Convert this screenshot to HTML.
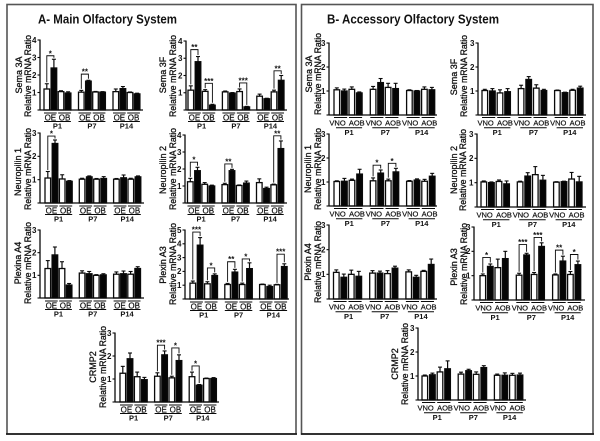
<!DOCTYPE html>
<html lang="en">
<head>
<meta charset="utf-8">
<title>Olfactory system mRNA ratios</title>
<style>
html,body{margin:0;padding:0;background:#fff;width:600px;height:441px;overflow:hidden}
svg{display:block;filter:blur(0.3px)}
text{font-family:"Liberation Sans",Arial,sans-serif;fill:#111}
</style>
</head>
<body>
<svg id="figure" width="600" height="441" viewBox="0 0 600 441" xmlns="http://www.w3.org/2000/svg">
  <rect x="0" y="0" width="600" height="441" fill="#fff"/>
  <rect x="7" y="4.5" width="289" height="429.5" fill="none" stroke="#555" stroke-width="1.6"/>
  <line x1="6" y1="434" x2="297" y2="434" stroke="#111" stroke-width="1.4"/>
  <rect x="301.5" y="4.5" width="291.5" height="429.5" fill="none" stroke="#555" stroke-width="1.6"/>
  <line x1="301" y1="434" x2="594" y2="434" stroke="#111" stroke-width="1.4"/>
  <text x="38" y="23.5" font-size="12.5" font-weight="bold" textLength="139" lengthAdjust="spacingAndGlyphs">A- Main Olfactory System</text>
  <text x="327" y="23.5" font-size="12.5" font-weight="bold" textLength="172" lengthAdjust="spacingAndGlyphs">B- Accessory Olfactory System</text>
</svg>
<script>
// Shared categories
const ageGroups = ['P1', 'P7', 'P14'];
const mainTissues = ['OE', 'OB'];
const accessoryTissues = ['VNO', 'AOB'];

// Panel A: means and errors, ordered P1 (white, black, white, black), P7, P14
const mainSema3aMeans = [1.2, 2.4, 1.05, 0.97, 1.02, 1.65, 1.03, 1.02, 1.05, 1.22, 1.0, 0.92];
const mainSema3aErrors = [0.3, 0.5, 0.05, 0.07, 0.1, 0.05, 0.03, 0.03, 0.15, 0.12, 0.03, 0.04];
const mainSema3aBrackets = [[0, 1, 3.1, '*'], [4, 5, 2.05, '**']];

const mainSema3fMeans = [1.15, 2.8, 1.08, 0.28, 1.05, 0.98, 1.07, 0.18, 0.8, 0.65, 1.05, 1.72];
const mainSema3fErrors = [0.25, 0.3, 0.1, 0.05, 0.05, 0.03, 0.15, 0.03, 0.12, 0.03, 0.1, 0.28];
const mainSema3fBrackets = [[0, 1, 3.5, '**'], [2, 3, 1.55, '***'], [6, 7, 1.57, '***'], [10, 11, 2.27, '**']];

const mainNeuropilin1Means = [1.07, 2.55, 1.03, 0.93, 1.02, 1.12, 1.02, 1.05, 1.02, 1.08, 1.02, 1.12];
const mainNeuropilin1Errors = [0.28, 0.15, 0.18, 0.03, 0.04, 0.04, 0.03, 0.08, 0.03, 0.12, 0.04, 0.04];
const mainNeuropilin1Brackets = [[0, 1, 2.87, '*']];

const mainNeuropilin2Means = [1.25, 1.9, 1.1, 1.0, 1.08, 1.9, 1.03, 1.17, 1.2, 0.85, 1.07, 3.2];
const mainNeuropilin2Errors = [0.2, 0.2, 0.1, 0.05, 0.08, 0.08, 0.03, 0.12, 0.22, 0.08, 0.04, 0.45];
const mainNeuropilin2Brackets = [[0, 1, 2.4, '*'], [4, 5, 2.3, '**'], [10, 11, 3.95, '**']];

const mainPlexinA4Means = [1.3, 1.9, 1.3, 0.57, 1.1, 1.07, 1.0, 1.02, 1.05, 1.07, 1.05, 1.3];
const mainPlexinA4Errors = [0.35, 0.35, 0.3, 0.07, 0.1, 0.1, 0.03, 0.05, 0.1, 0.12, 0.12, 0.08];
const mainPlexinA4Brackets = [];

const mainPlexinA3Means = [1.15, 3.9, 1.1, 1.7, 1.05, 1.95, 1.05, 2.2, 1.05, 0.9, 1.03, 2.35];
const mainPlexinA3Errors = [0.15, 0.55, 0.15, 0.12, 0.08, 0.2, 0.1, 0.42, 0.03, 0.1, 0.03, 0.2];
const mainPlexinA3Brackets = [[0, 1, 4.85, '***'], [2, 3, 2.25, '*'], [4, 5, 2.7, '**'], [6, 7, 2.9, '*'], [10, 11, 3.25, '***']];

const mainCrmp2Means = [1.25, 1.88, 1.1, 0.97, 1.12, 2.05, 1.05, 1.8, 1.1, 0.73, 1.02, 1.02];
const mainCrmp2Errors = [0.3, 0.25, 0.2, 0.1, 0.15, 0.17, 0.07, 0.25, 0.2, 0.03, 0.02, 0.04];
const mainCrmp2Brackets = [[4, 5, 2.47, '***'], [6, 7, 2.35, '*'], [8, 9, 1.57, '*']];

// Panel B
const accSema3aMeans = [1.05, 1.0, 1.07, 0.92, 1.07, 1.35, 1.15, 1.1, 1.02, 1.0, 1.07, 1.05];
const accSema3aErrors = [0.08, 0.08, 0.1, 0.04, 0.12, 0.17, 0.17, 0.22, 0.03, 0.02, 0.1, 0.1];
const accSema3aBrackets = [];

const accSema3fMeans = [1.02, 1.0, 0.92, 0.97, 1.1, 1.48, 1.12, 1.02, 1.02, 0.93, 1.03, 1.12];
const accSema3fErrors = [0.05, 0.1, 0.13, 0.13, 0.14, 0.12, 0.14, 0.05, 0.02, 0.02, 0.04, 0.08];
const accSema3fBrackets = [];

const accNeuropilin1Means = [1.02, 1.03, 1.07, 1.33, 1.05, 1.37, 1.05, 1.42, 1.03, 1.08, 1.03, 1.24];
const accNeuropilin1Errors = [0.03, 0.12, 0.05, 0.2, 0.12, 0.13, 0.07, 0.15, 0.03, 0.05, 0.08, 0.12];
const accNeuropilin1Brackets = [[4, 5, 1.7, '*'], [6, 7, 1.78, '*']];

const accNeuropilin2Means = [1.03, 1.0, 1.05, 0.95, 1.03, 1.27, 1.33, 1.1, 1.02, 1.04, 1.15, 1.03];
const accNeuropilin2Errors = [0.04, 0.03, 0.06, 0.12, 0.03, 0.14, 0.33, 0.2, 0.02, 0.02, 0.27, 0.23];
const accNeuropilin2Brackets = [];

const accPlexinA4Means = [1.08, 0.88, 1.0, 0.92, 1.05, 1.05, 1.03, 1.25, 1.1, 0.88, 1.12, 1.4];
const accPlexinA4Errors = [0.1, 0.13, 0.17, 0.2, 0.1, 0.08, 0.12, 0.08, 0.08, 0.08, 0.04, 0.22];
const accPlexinA4Brackets = [];

const accPlexinA3Means = [1.0, 1.38, 1.33, 1.7, 1.02, 1.85, 1.05, 2.2, 1.03, 1.6, 1.05, 1.45];
const accPlexinA3Errors = [0.07, 0.1, 0.35, 0.3, 0.08, 0.07, 0.08, 0.15, 0.04, 0.2, 0.12, 0.15];
const accPlexinA3Brackets = [[0, 1, 1.75, '*'], [4, 5, 2.28, '***'], [6, 7, 2.57, '***'], [8, 9, 2.05, '**'], [10, 11, 1.87, '*']];

const accCrmp2Means = [1.0, 1.05, 1.17, 1.3, 1.08, 1.22, 1.07, 1.35, 1.03, 1.03, 1.03, 1.04];
const accCrmp2Errors = [0.04, 0.07, 0.2, 0.33, 0.08, 0.06, 0.1, 0.08, 0.05, 0.1, 0.08, 0.08];
const accCrmp2Brackets = [];

// Layout of each panel (geometry only) and its data references
const panels = [
  {id:'main-sema-3a', gene:'Sema 3A', means:mainSema3aMeans, errors:mainSema3aErrors, brackets:mainSema3aBrackets, tissues:mainTissues, yMax:4, axisX:40, axisEnd:143, top:40, base:110, first:44, step:7.1, pitch:34.5, geneX:19, relX:28, geneC:75, relC:76, wide:false},
  {id:'main-sema-3f', gene:'Sema 3F', means:mainSema3fMeans, errors:mainSema3fErrors, brackets:mainSema3fBrackets, tissues:mainTissues, yMax:4, axisX:186, axisEnd:287, top:41, base:110, first:188, step:7.2, pitch:34.4, geneX:163, relX:173, geneC:75, relC:76, wide:false},
  {id:'main-neuropilin-1', gene:'Neuropilin 1', means:mainNeuropilin1Means, errors:mainNeuropilin1Errors, brackets:mainNeuropilin1Brackets, tissues:mainTissues, yMax:3, axisX:40, axisEnd:144, top:133, base:203, first:45, step:7.2, pitch:34.3, geneX:18, relX:28, geneC:172, relC:169, wide:false},
  {id:'main-neuropilin-2', gene:'Neuropilin 2', means:mainNeuropilin2Means, errors:mainNeuropilin2Errors, brackets:mainNeuropilin2Brackets, tissues:mainTissues, yMax:4, axisX:185, axisEnd:287, top:135, base:203, first:187.5, step:7.2, pitch:34.5, geneX:163, relX:173, geneC:170, relC:169, wide:false},
  {id:'main-plexin-a4', gene:'Plexina A4', means:mainPlexinA4Means, errors:mainPlexinA4Errors, brackets:mainPlexinA4Brackets, tissues:mainTissues, yMax:3, axisX:40, axisEnd:144, top:230, base:298, first:45, step:7.1, pitch:34.3, geneX:18, relX:28, geneC:263, relC:263, wide:false},
  {id:'main-plexin-a3', gene:'Plexin A3', means:mainPlexinA3Means, errors:mainPlexinA3Errors, brackets:mainPlexinA3Brackets, tissues:mainTissues, yMax:5, axisX:185, axisEnd:289, top:230, base:299, first:190, step:7.3, pitch:34.8, geneX:163, relX:173, geneC:265, relC:264, wide:false},
  {id:'main-crmp2', gene:'CRMP2', means:mainCrmp2Means, errors:mainCrmp2Errors, brackets:mainCrmp2Brackets, tissues:mainTissues, yMax:3, axisX:115, axisEnd:219, top:333, base:402, first:120, step:7.2, pitch:34.6, geneX:93, relX:103, geneC:367, relC:367, wide:false},
  {id:'acc-sema-3a', gene:'Sema 3A', means:accSema3aMeans, errors:accSema3aErrors, brackets:accSema3aBrackets, tissues:accessoryTissues, yMax:3, axisX:329, axisEnd:437, top:43, base:115, first:334, step:7.5, pitch:36.3, geneX:309, relX:318, geneC:74, relC:74, wide:true},
  {id:'acc-sema-3f', gene:'Sema 3F', means:accSema3fMeans, errors:accSema3fErrors, brackets:accSema3fBrackets, tissues:accessoryTissues, yMax:3, axisX:478, axisEnd:586, top:43, base:115, first:482, step:7.6, pitch:36.3, geneX:454, relX:464, geneC:77, relC:76, wide:true},
  {id:'acc-neuropilin-1', gene:'Neuropilin 1', means:accNeuropilin1Means, errors:accNeuropilin1Errors, brackets:accNeuropilin1Brackets, tissues:accessoryTissues, yMax:3, axisX:329, axisEnd:437, top:134, base:206, first:334, step:7.6, pitch:36.3, geneX:308, relX:318, geneC:169, relC:169, wide:true},
  {id:'acc-neuropilin-2', gene:'Neuropilin 2', means:accNeuropilin2Means, errors:accNeuropilin2Errors, brackets:accNeuropilin2Brackets, tissues:accessoryTissues, yMax:3, axisX:477, axisEnd:586, top:134, base:207, first:481, step:7.6, pitch:36.3, geneX:454, relX:463, geneC:170, relC:170, wide:true},
  {id:'acc-plexin-a4', gene:'Plexin A4', means:accPlexinA4Means, errors:accPlexinA4Errors, brackets:accPlexinA4Brackets, tissues:accessoryTissues, yMax:3, axisX:329, axisEnd:437, top:225, base:299, first:333.5, step:7.5, pitch:36.2, geneX:308, relX:318, geneC:262, relC:262, wide:true},
  {id:'acc-plexin-a3', gene:'Plexin A3', means:accPlexinA3Means, errors:accPlexinA3Errors, brackets:accPlexinA3Brackets, tissues:accessoryTissues, yMax:3, axisX:474, axisEnd:585, top:227, base:300, first:480, step:7.5, pitch:36.3, geneX:454, relX:464, geneC:267, relC:264, wide:true},
  {id:'acc-crmp2', gene:'CRMP2', means:accCrmp2Means, errors:accCrmp2Errors, brackets:accCrmp2Brackets, tissues:accessoryTissues, yMax:3, axisX:418, axisEnd:526, top:328, base:400, first:422, step:7.6, pitch:36.2, geneX:395, relX:405, geneC:364, relC:364, wide:true}
];

const SVG_NS = 'http://www.w3.org/2000/svg';
const figure = document.getElementById('figure');
const BAR_W = 5.6;

function create(parent, tag, props, content) {
  const el = document.createElementNS(SVG_NS, tag);
  for (const key in props) el.setAttribute(key, props[key]);
  if (content !== undefined) el.textContent = content;
  parent.appendChild(el);
  return el;
}
function line(parent, x1, y1, x2, y2, width) {
  return create(parent, 'line', {x1: x1, y1: y1, x2: x2, y2: y2, stroke: '#0a0a0a', 'stroke-width': width});
}
function verticalText(parent, x, cy, size, str, length) {
  const props = {transform: 'translate(' + x + ',' + cy + ') rotate(-90)', 'text-anchor': 'middle', 'font-size': size, y: 3, stroke: '#111', 'stroke-width': 0.3};
  if (length) { props.textLength = length; props.lengthAdjust = 'spacingAndGlyphs'; }
  return create(parent, 'text', props, str);
}

panels.forEach(function (p) {
  const yScale = function (v) { return p.base - (p.base - p.top) * v / p.yMax; };
  const xScale = function (i) { return p.first + p.step * (i % 4) + p.pitch * Math.floor(i / 4); };

  const g = create(figure, 'g', {});
  
  

  // Y axis title lines
  const geneLabel = verticalText(g, p.geneX, p.geneC, 9, p.gene);
  
  
  const ratioLabel = verticalText(g, p.relX, p.relC, 9, 'Relative mRNA Ratio', 82);
  
  

  // Bars and error bars
  p.means.forEach(function (mean, i) {
    const x = xScale(i);
    const isBlack = i % 2 === 1;
    const cx = x + BAR_W / 2;
    const err = line(g, cx, yScale(mean), cx, yScale(mean + p.errors[i]), 1.2);
    
    
    const cap = line(g, cx - 2, yScale(mean + p.errors[i]), cx + 2, yScale(mean + p.errors[i]), 1.1);
    
    
    const bar = create(g, 'rect', {x: x, y: yScale(mean), width: BAR_W, height: p.base - yScale(mean), fill: isBlack ? '#050505' : '#fff', stroke: '#0a0a0a', 'stroke-width': 1.3});
    
    
  });

  // Axes
  const yAxis = line(g, p.axisX, p.top - 0.5, p.axisX, p.base + 0.5, 1.3);
  
  
  const xAxis = line(g, p.axisX, p.base, p.axisEnd, p.base, 1.3);
  
  

  for (let t = 0; t <= p.yMax; t++) {
    const tick = line(g, p.axisX - 2.5, yScale(t), p.axisX, yScale(t), 1.1);
    
    
    if (t > 0) {
      const tickLabel = create(g, 'text', {x: p.axisX - 3.5, y: yScale(t) + 2.8, 'text-anchor': 'end', 'font-size': 8, 'font-weight': 'bold'}, String(t));
      
      
    }
  }

  // X labels: tissue pairs and age groups
  const o = p.wide ? {l1: 2.5, t: 10.5, l2: 12.8, a: 20} : {l1: 3, t: 10.3, l2: 11.5, a: 18.5};
  ageGroups.forEach(function (age, a) {
    p.tissues.forEach(function (tissue, k) {
      const i = a * 4 + k * 2;
      const x1 = xScale(i);
      const x2 = xScale(i + 1) + BAR_W;
      const tissueLine = line(g, x1, p.base + o.l1, x2, p.base + o.l1, 1);
      
      
      const shift = p.wide ? (k === 0 ? -3 : 1.2) : 0;
      const tissueLabel = create(g, 'text', {x: (x1 + x2) / 2 + shift, y: p.base + o.t, 'text-anchor': 'middle', 'font-size': p.wide ? 7.5 : 8, stroke: '#111', 'stroke-width': 0.2}, tissue);
      
      
    });
    const gx1 = xScale(a * 4) + (p.wide ? 2 : 0);
    const gx2 = xScale(a * 4 + 3) + BAR_W;
    const ageLine = line(g, gx1, p.base + o.l2, gx2, p.base + o.l2, 1);
    
    
    const ageLabel = create(g, 'text', {x: (gx1 + gx2) / 2, y: p.base + o.a, 'text-anchor': 'middle', 'font-size': 7.5, 'font-weight': 'bold'}, age);
    
    
  });

  // Significance brackets
  p.brackets.forEach(function (b) {
    const xa = xScale(b[0]) + BAR_W / 2;
    const xb = xScale(b[1]) + BAR_W / 2;
    const yb = yScale(b[2]);
    const ya = yScale(p.means[b[0]] + p.errors[b[0]]) - 1.5;
    const yc = yScale(p.means[b[1]] + p.errors[b[1]]) - 1.5;
    const path = create(g, 'path', {d: 'M' + xa + ' ' + ya + 'V' + yb + 'H' + xb + 'V' + yc, fill: 'none', stroke: '#0a0a0a', 'stroke-width': 0.9});
    
    
    const stars = create(g, 'text', {x: (xa + xb) / 2, y: yb + 0.5, 'text-anchor': 'middle', 'font-size': 8, 'font-weight': 'bold'}, b[3]);
    
    
  });
});
</script>
</body>
</html>
